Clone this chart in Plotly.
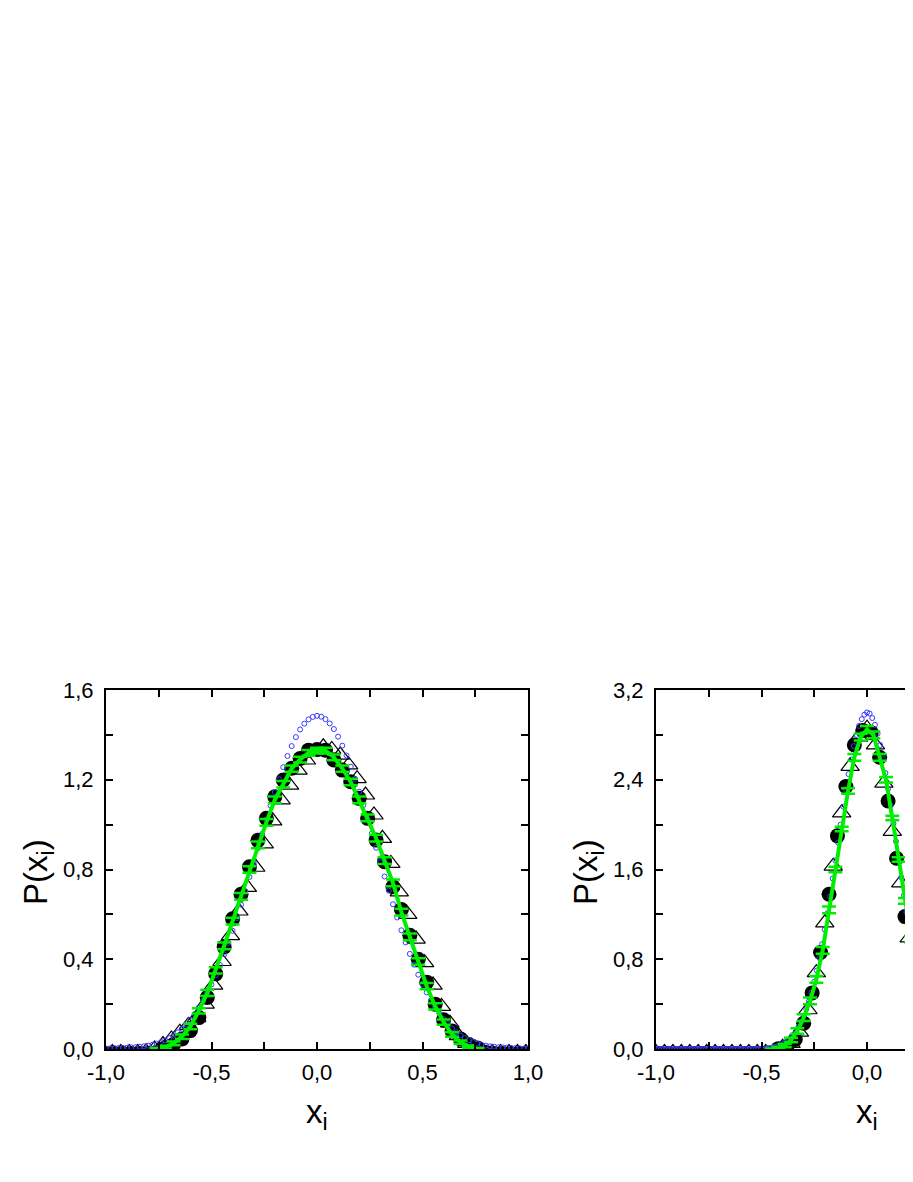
import numpy as np
import plotly.graph_objects as go

# ---------------- left panel ----------------
# sample grids of the four series
left_circle_x = np.round(np.linspace(-1.0, 1.0, 51), 3)
left_triangle_x = np.round(np.linspace(-0.97, 0.99, 50), 3)
left_blue_x = np.round(np.linspace(-1.0, 1.0, 101), 3)
left_green_x = np.round(np.linspace(-0.76, 0.76, 39), 3)

left_circle_y = [
    -0.02, -0.02, -0.02, -0.02, -0.02, -0.02, -0.015, 0.006, 0.02, 0.045,
    0.082, 0.14, 0.23, 0.335, 0.455, 0.58, 0.69, 0.812, 0.93, 1.028,
    1.124, 1.199, 1.251, 1.295, 1.332, 1.335, 1.332, 1.288, 1.243, 1.191,
    1.117, 1.028, 0.931, 0.835, 0.723, 0.622, 0.507, 0.40, 0.298, 0.20,
    0.13, 0.08, 0.045, 0.02, 0.005, -0.015, -0.02, -0.02, -0.02, -0.02,
    -0.02,
]
left_triangle_y = [
    -0.015, -0.015, -0.015, -0.015, -0.012, 0.0, 0.02, 0.045, 0.075, 0.105,
    0.14, 0.20, 0.285, 0.39, 0.505, 0.615, 0.72, 0.81, 0.914, 1.017,
    1.11, 1.176, 1.243, 1.288, 1.325, 1.347, 1.335, 1.31, 1.266, 1.205,
    1.132, 1.043, 0.939, 0.827, 0.70, 0.60, 0.49, 0.385, 0.285, 0.19,
    0.115, 0.06, 0.025, 0.005, -0.012, -0.015, -0.015, -0.015, -0.015, -0.015,
]
left_blue_y = [
    0.002, 0.003, 0.004, 0.005, 0.005, 0.006, 0.007, 0.008, 0.010, 0.012,
    0.015, 0.019, 0.024, 0.030, 0.038, 0.048, 0.060, 0.074, 0.090, 0.109,
    0.131, 0.156, 0.184, 0.215, 0.250, 0.288, 0.329, 0.374, 0.422, 0.473,
    0.527, 0.584, 0.643, 0.704, 0.767, 0.831, 0.895, 0.959, 1.023, 1.085,
    1.145, 1.202, 1.256, 1.306, 1.350, 1.390, 1.424, 1.450, 1.469, 1.480,
    1.485, 1.481, 1.470, 1.451, 1.426, 1.392, 1.352, 1.308, 1.258, 1.204,
    1.147, 1.087, 1.025, 0.961, 0.897, 0.833, 0.769, 0.706, 0.645, 0.586,
    0.529, 0.475, 0.424, 0.376, 0.331, 0.290, 0.252, 0.217, 0.186, 0.158,
    0.133, 0.111, 0.092, 0.075, 0.061, 0.049, 0.039, 0.031, 0.024, 0.019,
    0.015, 0.012, 0.010, 0.008, 0.007, 0.006, 0.005, 0.004, 0.003, 0.002,
    0.001,
]
left_green_y = [
    0.0, 0.008, 0.025, 0.055, 0.10, 0.17, 0.25, 0.35, 0.46, 0.57,
    0.68, 0.80, 0.91, 1.01, 1.11, 1.18, 1.25, 1.29, 1.32, 1.33,
    1.33, 1.30, 1.25, 1.19, 1.11, 1.03, 0.94, 0.84, 0.74, 0.61,
    0.50, 0.39, 0.28, 0.19, 0.12, 0.065, 0.03, 0.01, 0.0,
]
left_green_err = [
    0.004, 0.006, 0.008, 0.010, 0.012, 0.012, 0.014, 0.014, 0.015, 0.015,
    0.015, 0.015, 0.015, 0.015, 0.015, 0.014, 0.014, 0.013, 0.013, 0.013,
    0.013, 0.013, 0.014, 0.014, 0.015, 0.015, 0.015, 0.015, 0.015, 0.015,
    0.015, 0.015, 0.014, 0.014, 0.012, 0.010, 0.008, 0.006, 0.004,
]

# ---------------- right panel ----------------
right_circle_x = np.round(np.linspace(-0.98, 0.98, 50), 3)
right_triangle_x = np.round(np.linspace(-1.0, 1.0, 51), 3)
right_blue_x = np.round(np.linspace(-1.0, 1.0, 161), 4)
right_green_x = np.round(np.linspace(-0.45, 0.45, 31), 3)

right_circle_y = [
    -0.04, -0.04, -0.04, -0.04, -0.04, -0.04, -0.04, -0.04, -0.04, -0.04,
    -0.04, -0.04, -0.04, -0.04, 0.003, 0.02, 0.085, 0.23, 0.50, 0.86,
    1.38, 1.90, 2.34, 2.71, 2.84, 2.82, 2.60, 2.21, 1.70, 1.18,
    0.74, 0.42, 0.20, 0.07, 0.02, 0.003, -0.04, -0.04, -0.04, -0.04,
    -0.04, -0.04, -0.04, -0.04, -0.04, -0.04, -0.04, -0.04, -0.04, -0.04,
]
right_triangle_y = [
    -0.03, -0.03, -0.03, -0.03, -0.03, -0.03, -0.03, -0.03, -0.03, -0.03,
    -0.03, -0.03, -0.03, -0.03, -0.03, 0.015, 0.05, 0.15, 0.35, 0.68,
    1.125, 1.63, 2.105, 2.52, 2.78, 2.86, 2.71, 2.37, 1.94, 1.48,
    0.99, 0.57, 0.30, 0.13, 0.05, 0.015, -0.03, -0.03, -0.03, -0.03,
    -0.03, -0.03, -0.03, -0.03, -0.03, -0.03, -0.03, -0.03, -0.03, -0.03,
    -0.03,
]
right_blue_y = [
    0.0, 0.0, 0.0, 0.0, 0.0, 0.0, 0.0, 0.0, 0.0, 0.0,
    0.0, 0.0, 0.0, 0.0, 0.0, 0.0, 0.0, 0.0, 0.0, 0.0,
    0.0, 0.0, 0.0, 0.0, 0.0, 0.0, 0.0, 0.0, 0.0, 0.0,
    0.0, 0.0, 0.0, 0.0, 0.0, 0.0, 0.0, 0.0,
    0.001, 0.002, 0.003, 0.004, 0.006, 0.009, 0.013, 0.018, 0.025, 0.033,
    0.043, 0.057, 0.074, 0.096, 0.123, 0.156, 0.195, 0.24, 0.295, 0.355,
    0.425, 0.505, 0.60, 0.70, 0.81, 0.935, 1.065, 1.21, 1.36, 1.52,
    1.68, 1.84, 2.00, 2.16, 2.31, 2.45, 2.58, 2.70, 2.80, 2.88,
    2.94, 2.98,
    3.00, 2.99, 2.95, 2.89, 2.81, 2.71, 2.59, 2.46, 2.32, 2.17,
    2.01, 1.85, 1.69, 1.53, 1.37, 1.22, 1.07, 0.94, 0.81, 0.70,
    0.60, 0.50, 0.42, 0.35, 0.29, 0.235, 0.19, 0.152, 0.12, 0.094,
    0.073, 0.056, 0.043, 0.033, 0.025, 0.018, 0.013, 0.009, 0.006, 0.004,
    0.003, 0.002, 0.001,
    0.0, 0.0, 0.0, 0.0, 0.0, 0.0, 0.0, 0.0, 0.0, 0.0,
    0.0, 0.0, 0.0, 0.0, 0.0, 0.0, 0.0, 0.0, 0.0, 0.0,
    0.0, 0.0, 0.0, 0.0, 0.0, 0.0, 0.0, 0.0, 0.0, 0.0,
    0.0, 0.0, 0.0, 0.0, 0.0, 0.0, 0.0, 0.0,
]
right_green_y = [
    0.0, 0.01, 0.03, 0.08, 0.16, 0.28, 0.43, 0.62, 0.88, 1.24,
    1.60, 1.96, 2.30, 2.60, 2.78, 2.85, 2.80, 2.60, 2.40, 2.06,
    1.69, 1.32, 0.98, 0.66, 0.43, 0.26, 0.15, 0.07, 0.03, 0.01,
    0.0,
]
right_green_err = [
    0.005, 0.01, 0.015, 0.02, 0.025, 0.03, 0.03, 0.03, 0.03, 0.03,
    0.025, 0.02, 0.025, 0.03, 0.03, 0.03, 0.03, 0.03, 0.025, 0.02,
    0.02, 0.025, 0.03, 0.03, 0.03, 0.03, 0.025, 0.02, 0.015, 0.01,
    0.005,
]

# labelled (major) and unlabelled (minor) tick positions
left_x_ticks = [-1.0, -0.5, 0.0, 0.5, 1.0]
left_x_text = ["-1,0", "-0,5", "0,0", "0,5", "1,0"]
left_x_minor = [-0.75, -0.25, 0.25, 0.75]
left_y_ticks = [0.0, 0.4, 0.8, 1.2, 1.6]
left_y_text = ["0,0", "0,4", "0,8", "1,2", "1,6"]
left_y_minor = [0.2, 0.6, 1.0, 1.4]
right_x_ticks = [-1.0, -0.5, 0.0]
right_x_text = ["-1,0", "-0,5", "0,0"]
right_x_minor = [-0.75, -0.25]
right_y_ticks = [0.0, 0.8, 1.6, 2.4, 3.2]
right_y_text = ["0,0", "0,8", "1,6", "2,4", "3,2"]
right_y_minor = [0.4, 1.2, 2.0, 2.8]

FONT = "Arial, Liberation Sans, sans-serif"
W, H = 905, 1166

fig = go.Figure()


def add_panel(xa, ya, tx, ty, cx, cy, bx, by, gx, gy, gerr):
    fig.add_trace(go.Scatter(
        x=tx, y=ty, mode="markers", xaxis=xa, yaxis=ya,
        marker=dict(symbol="triangle-up-open", size=16, color="black",
                    line=dict(width=1.2, color="black")),
    ))
    fig.add_trace(go.Scatter(
        x=cx, y=cy, mode="markers", xaxis=xa, yaxis=ya,
        marker=dict(symbol="circle", size=15, color="black"),
    ))
    fig.add_trace(go.Scatter(
        x=bx, y=by, mode="markers", xaxis=xa, yaxis=ya,
        marker=dict(symbol="circle-open", size=5, color="#3a3aff",
                    line=dict(width=1, color="#3a3aff")),
    ))
    fig.add_trace(go.Scatter(
        x=gx, y=gy, mode="lines", xaxis=xa, yaxis=ya,
        line=dict(color="#00ee00", width=4),
        error_y=dict(type="data", array=gerr, color="#00ee00",
                     thickness=2.5, width=7),
    ))


add_panel("x", "y", left_triangle_x, left_triangle_y, left_circle_x,
          left_circle_y, left_blue_x, left_blue_y, left_green_x,
          left_green_y, left_green_err)
add_panel("x2", "y2", right_triangle_x, right_triangle_y, right_circle_x,
          right_circle_y, right_blue_x, right_blue_y, right_green_x,
          right_green_y, right_green_err)

axis_style = dict(
    showline=True, linecolor="black", linewidth=2, ticks="inside",
    ticklen=7, tickwidth=1.5, tickcolor="black", showgrid=False,
    zeroline=False, automargin=False,
    tickfont=dict(family=FONT, size=22, color="black"),
)


def minor(vals):
    return dict(tickvals=vals, ticks="inside", ticklen=7, tickwidth=1.5,
                tickcolor="black", showgrid=False)


y0, y1 = (H - 1041) / H, (H - 682) / H
fig.update_layout(
    width=W, height=H, showlegend=False,
    margin=dict(l=0, r=0, t=0, b=0, autoexpand=False),
    paper_bgcolor="white", plot_bgcolor="white",
    xaxis=dict(axis_style, domain=[98 / W, 520 / W], range=[-1, 1],
               tickvals=left_x_ticks, ticktext=left_x_text, mirror="ticks",
               minor=minor(left_x_minor), anchor="y", ticklabelstandoff=3),
    yaxis=dict(axis_style, domain=[y0, y1], range=[0, 1.6],
               tickvals=left_y_ticks, ticktext=left_y_text, mirror="ticks",
               minor=minor(left_y_minor), anchor="x", ticklabelstandoff=6),
    xaxis2=dict(axis_style, domain=[648 / W, 1.0],
                range=[-1, (W - 859) / 211], tickvals=right_x_ticks,
                ticktext=right_x_text, mirror="ticks",
                minor=minor(right_x_minor), anchor="y2",
                ticklabelstandoff=3),
    yaxis2=dict(axis_style, domain=[y0, y1], range=[0, 3.2],
                tickvals=right_y_ticks, ticktext=right_y_text, mirror=False,
                minor=minor(right_y_minor), anchor="x2",
                ticklabelstandoff=6),
)

title_font = dict(family=FONT, size=33, color="black")
for xr in ("x", "x2"):
    fig.add_annotation(x=0.0, xref=xr, y=(H - 1106) / H, yref="paper",
                       text="x<sub>i</sub>", showarrow=False,
                       font=title_font, xanchor="center", yanchor="middle")
for xp in (30 / W, 580 / W):
    fig.add_annotation(x=xp, xref="paper", y=(H - 864) / H, yref="paper",
                       text="P(x<sub>i</sub>)", showarrow=False,
                       font=title_font, textangle=-90, xanchor="center",
                       yanchor="middle")

fig.write_html("out.html")
